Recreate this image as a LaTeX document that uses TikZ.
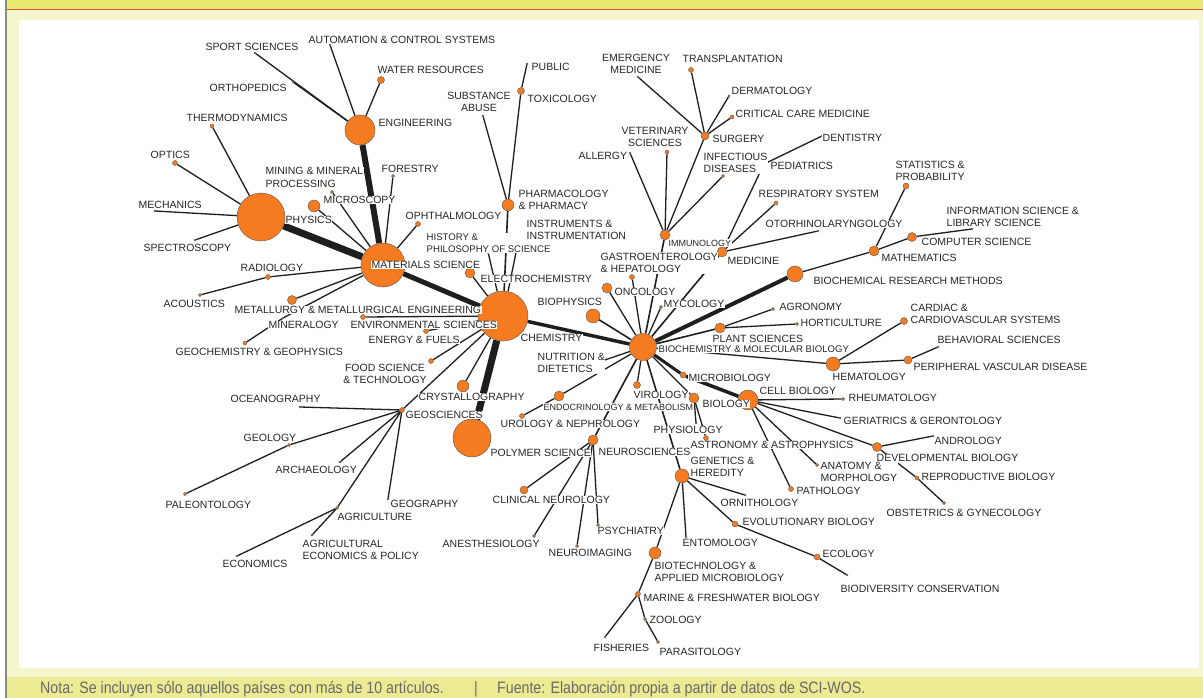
\documentclass[tikz,border=0pt]{standalone}
\usepackage{fontspec}
\setmainfont{Liberation Sans}
\newfontfamily\footfont[FakeStretch=0.86]{Liberation Sans}
\usetikzlibrary{positioning}
\definecolor{netorange}{RGB}{244,123,32}
\definecolor{linkblack}{RGB}{30,30,30}
\definecolor{labeltext}{RGB}{38,38,38}
\definecolor{bandyellow}{RGB}{234,233,112}
\definecolor{footyellow}{RGB}{236,235,148}
\definecolor{paleyellow}{RGB}{246,246,206}
\definecolor{rulered}{RGB}{222,84,60}
\definecolor{edgegray}{RGB}{140,140,120}
\definecolor{foottext}{RGB}{105,105,105}
\newcommand\lblfont{\fontsize{10.5}{12.6}\selectfont}
\newcommand\lblsmall{\fontsize{9.6}{11.6}\selectfont}
\newcommand\lbltiny{\fontsize{9}{11}\selectfont}
\pgfdeclarelayer{frame}
\pgfdeclarelayer{links}
\pgfsetlayers{frame,links,main}
\tikzset{
  dot/.style={circle, fill=netorange, draw=black!65, line width=0.4pt, inner sep=0pt, minimum size=#1},
  dot/.default=3,
  lbl/.style={font=\lblfont, text=labeltext, fill=white, inner sep=0.5pt, anchor=west, align=left},
  lblc/.style={lbl, anchor=center, align=center},
  link/.style={draw=linkblack, line width=#1},
  link/.default=1.3
}
\begin{document}
\begin{tikzpicture}[x=1pt, y=-1pt]
\useasboundingbox (0,0) rectangle (1203,698);

% Frame
\begin{pgfonlayer}{frame}
  \fill[white] (0,0) rectangle (1203,698);
  \fill[paleyellow] (6,0) rectangle (1203,698);
  \fill[bandyellow] (6,0) rectangle (1203,9);
  \fill[footyellow] (6,677) rectangle (1203,698);
  \fill[white] (19,20) rectangle (1199,668);
  \draw[rulered, line width=1.2pt] (6,9.6) -- (1203,9.6);
  \draw[edgegray, line width=1.3pt] (6,0) -- (6,698);
\end{pgfonlayer}

% Hubs
\node[dot=50] (chem) at (503,316) {};
\node[dot=44] (matsci) at (383,265) {};
\node[dot=48] (phys) at (261,217) {};
\node[dot=30] (eng) at (360,130) {};
\node[dot=27] (biochem) at (643,347) {};
\node[dot=38] (polymer) at (472,438) {};
\node[dot=20] (cellbio) at (748,400) {};
\node[dot=16] (brm) at (795,274) {};
\node[dot=14] (genetics) at (682,476) {};
\node[dot=14] (hemat) at (833,364) {};

% Engineering and physics branch
\node[dot=2] (sport) at (255,53) {};
\node[dot=2] (autom) at (330,45) {};
\node[dot=7] (water) at (381,80) {};
\node[dot=2] (ortho) at (293,82) {};
\node[dot=4] (thermo) at (212,126) {};
\node[dot=5] (optics) at (175,163) {};
\node[dot=2] (mech) at (155,211) {};
\node[dot=2] (spectro) at (195,240) {};

% Materials science branch
\node[dot=12] (micro) at (314,206) {};
\node[dot=3] (mining) at (332,192) {};
\node[dot=3] (forest) at (393,176) {};
\node[dot=5] (ophth) at (418,224) {};
\node[dot=5] (radiol) at (268,277) {};
\node[dot=3] (acoust) at (200,295) {};
\node[dot=9] (metal) at (292,300) {};
\node[dot=2] (minera) at (283,318) {};
\node[dot=4] (geochem) at (245,343) {};

% Chemistry branch
\node[dot=5] (envsci) at (363,317) {};
\node[dot=5] (energy) at (426,331) {};
\node[dot=5] (food) at (431,361) {};
\node[dot=12] (crystal) at (463,386) {};
\node[dot=5] (geosci) at (402,410) {};
\node[dot=10] (electro) at (470,273) {};
\node[dot=3] (histphil) at (488,252) {};
\node[dot=6] (instr) at (519,238) {};
\node[dot=12] (pharm) at (508,205) {};
\node[dot=2] (subst) at (483,116) {};
\node[dot=7] (toxic) at (521,91) {};
\node[dot=2] (public) at (527,64) {};

% Geosciences branch
\node[dot=2] (ocean) at (300,407) {};
\node[dot=3] (geol) at (289,445) {};
\node[dot=3] (paleo) at (185,494) {};
\node[dot=2] (archae) at (340,462) {};
\node[dot=2] (geog) at (388,499) {};
\node[dot=3] (agri) at (337,508) {};
\node[dot=2] (econ) at (237,556) {};
\node[dot=2] (agecon) at (312,535) {};

% Medicine branch
\node[dot=10] (immun) at (665,235) {};
\node[dot=10] (medic) at (722,252) {};
\node[dot=8] (surg) at (705,136) {};
\node[dot=2] (emerg) at (638,77) {};
\node[dot=5] (transpl) at (691,70) {};
\node[dot=2] (dermat) at (729,96) {};
\node[dot=4] (critcare) at (732,117) {};
\node[dot=4] (vetsci) at (667,152) {};
\node[dot=2] (allergy) at (630,153) {};
\node[dot=3] (infect) at (723,176) {};
\node[dot=3] (pediat) at (764,164) {};
\node[dot=2] (dentist) at (822,136) {};
\node[dot=4] (respir) at (776,203) {};
\node[dot=2] (otorhino) at (818,231) {};

% Biochemistry branch
\node[dot=14] (biophys) at (593,316) {};
\node[dot=10] (oncol) at (607,288) {};
\node[dot=5] (gastro) at (632,277) {};
\node[dot=3] (mycol) at (661,307) {};
\node[dot=4] (nutri) at (590,365) {};
\node[dot=10] (endo) at (559,396) {};
\node[dot=5] (urol) at (522,416) {};
\node[dot=7] (virol) at (637,385) {};
\node[dot=6] (microb) at (683,375) {};
\node[dot=10] (biol) at (694,398) {};
\node[dot=2] (physio) at (696,423) {};
\node[dot=5] (astro) at (706,438) {};
\node[dot=10] (plant) at (720,328) {};
\node[dot=3] (agron) at (773,309) {};
\node[dot=3] (hortic) at (797,324) {};
\node[dot=7] (cardiac) at (904,321) {};
\node[dot=8] (periph) at (908,360) {};
\node[dot=2] (behav) at (938,347) {};
\node[dot=10] (math) at (874,251) {};
\node[dot=6] (stats) at (906,186) {};
\node[dot=9] (compsci) at (912,237) {};
\node[dot=2] (infosci) at (972,229) {};

% Cell biology branch
\node[dot=3] (rheum) at (843,399) {};
\node[dot=2] (geriat) at (840,418) {};
\node[dot=9] (devbio) at (877,447) {};
\node[dot=2] (androl) at (933,436) {};
\node[dot=4] (reprod) at (917,478) {};
\node[dot=3] (obstet) at (944,503) {};
\node[dot=3] (anatomy) at (817,465) {};
\node[dot=5] (patho) at (791,489) {};

% Neurosciences branch
\node[dot=10] (neuro) at (593,440) {};
\node[dot=8] (clinneur) at (524,490) {};
\node[dot=3] (anest) at (534,536) {};
\node[dot=3] (neuroim) at (577,546) {};
\node[dot=3] (psych) at (598,525) {};

% Genetics branch
\node[dot=2] (ornith) at (745,495) {};
\node[dot=6] (evol) at (735,524) {};
\node[dot=6] (ecol) at (817,557) {};
\node[dot=2] (biodiv) at (847,575) {};
\node[dot=2] (entom) at (686,537) {};
\node[dot=12] (biotech) at (655,553) {};
\node[dot=5] (marine) at (638,594) {};
\node[dot=3] (zool) at (645,619) {};
\node[dot=2] (fish) at (605,637) {};
\node[dot=3] (parasit) at (658,642) {};

% Links
\begin{pgfonlayer}{links}
  \draw[link=6] (eng) -- (matsci);
  \draw[link=7] (phys) -- (matsci);
  \draw[link=5] (matsci) -- (chem);
  \draw[link=7] (chem) -- (polymer);
  \draw[link=3.5] (chem) -- (biochem);
  \draw[link=4] (biochem) -- (brm);
  \draw[link=3] (biochem) -- (microb);
  \draw[link=3.5] (microb) -- (cellbio);
  \draw[link] (eng) -- (sport);
  \draw[link] (eng) -- (autom);
  \draw[link] (eng) -- (water);
  \draw[link] (eng) -- (ortho);
  \draw[link] (phys) -- (thermo);
  \draw[link] (phys) -- (optics);
  \draw[link] (phys) -- (mech);
  \draw[link] (phys) -- (spectro);
  \draw[link] (matsci) -- (micro);
  \draw[link] (matsci) -- (mining);
  \draw[link] (matsci) -- (forest);
  \draw[link] (matsci) -- (ophth);
  \draw[link] (matsci) -- (radiol) -- (acoust);
  \draw[link] (matsci) -- (metal);
  \draw[link] (matsci) -- (minera) -- (geochem);
  \draw[link] (chem) -- (envsci);
  \draw[link] (chem) -- (energy);
  \draw[link] (chem) -- (food);
  \draw[link] (chem) -- (crystal);
  \draw[link] (chem) -- (geosci);
  \draw[link] (chem) -- (electro);
  \draw[link] (chem) -- (histphil);
  \draw[link] (chem) -- (instr);
  \draw[link=1.6] (chem) -- (pharm);
  \draw[link] (pharm) -- (subst);
  \draw[link] (pharm) -- (toxic) -- (public);
  \draw[link] (geosci) -- (ocean);
  \draw[link] (geosci) -- (geol) -- (paleo);
  \draw[link] (geosci) -- (archae);
  \draw[link] (geosci) -- (geog);
  \draw[link] (geosci) -- (agri);
  \draw[link] (agri) -- (econ);
  \draw[link] (agri) -- (agecon);
  \draw[link=1.6] (biochem) -- (immun);
  \draw[link=1.6] (biochem) -- (medic);
  \draw[link] (immun) -- (surg);
  \draw[link] (immun) -- (vetsci);
  \draw[link] (immun) -- (allergy);
  \draw[link] (immun) -- (infect);
  \draw[link] (surg) -- (emerg);
  \draw[link] (surg) -- (transpl);
  \draw[link] (surg) -- (dermat);
  \draw[link] (surg) -- (critcare);
  \draw[link] (medic) -- (pediat) -- (dentist);
  \draw[link] (medic) -- (respir);
  \draw[link] (medic) -- (otorhino);
  \draw[link=1.6] (biochem) -- (biophys);
  \draw[link] (biochem) -- (oncol);
  \draw[link] (biochem) -- (gastro);
  \draw[link] (biochem) -- (mycol);
  \draw[link] (biochem) -- (nutri);
  \draw[link] (biochem) -- (endo) -- (urol);
  \draw[link] (biochem) -- (virol);
  \draw[link] (biochem) -- (biol);
  \draw[link] (biol) -- (physio);
  \draw[link] (biol) -- (astro);
  \draw[link=1.6] (biochem) -- (plant);
  \draw[link] (plant) -- (agron);
  \draw[link] (plant) -- (hortic);
  \draw[link] (biochem) -- (hemat);
  \draw[link] (hemat) -- (cardiac);
  \draw[link] (hemat) -- (periph) -- (behav);
  \draw[link] (brm) -- (math);
  \draw[link] (math) -- (stats);
  \draw[link] (math) -- (compsci) -- (infosci);
  \draw[link] (cellbio) -- (rheum);
  \draw[link] (cellbio) -- (geriat);
  \draw[link] (cellbio) -- (devbio);
  \draw[link] (cellbio) -- (anatomy);
  \draw[link] (cellbio) -- (patho);
  \draw[link] (devbio) -- (androl);
  \draw[link] (devbio) -- (reprod) -- (obstet);
  \draw[link=1.6] (biochem) -- (neuro);
  \draw[link] (neuro) -- (clinneur);
  \draw[link] (neuro) -- (anest);
  \draw[link] (neuro) -- (neuroim);
  \draw[link] (neuro) -- (psych);
  \draw[link=1.6] (biochem) -- (genetics);
  \draw[link] (genetics) -- (ornith);
  \draw[link] (genetics) -- (evol) -- (ecol) -- (biodiv);
  \draw[link] (genetics) -- (entom);
  \draw[link] (genetics) -- (biotech) -- (marine);
  \draw[link] (marine) -- (fish);
  \draw[link] (marine) -- (zool) -- (parasit);
\end{pgfonlayer}

% Labels, left side
\node[lbl] (l-eng) at (378,123) {ENGINEERING};
\node[lbl] (l-sport) at (205,47) {SPORT SCIENCES};
\node[lbl] (l-autom) at (308,40) {AUTOMATION \& CONTROL SYSTEMS};
\node[lbl] (l-water) at (377,70) {WATER RESOURCES};
\node[lbl] (l-ortho) at (209,88) {ORTHOPEDICS};
\node[lbl] (l-thermo) at (186,118) {THERMODYNAMICS};
\node[lbl] (l-optics) at (150,155) {OPTICS};
\node[lbl] (l-mech) at (138,205) {MECHANICS};
\node[lbl] (l-phys) at (285,220) {PHYSICS};
\node[lbl] (l-micro) at (323,200) {MICROSCOPY};
\node[lbl] (l-mining) at (265,177.5) {MINING \& MINERAL\\PROCESSING};
\node[lbl] (l-forest) at (381,169) {FORESTRY};
\node[lbl] (l-ophth) at (405,216) {OPHTHALMOLOGY};
\node[lbl] (l-spectro) at (143,248) {SPECTROSCOPY};
\node[lbl] (l-matsci) at (371,265) {MATERIALS SCIENCE};
\node[lbl] (l-radiol) at (240,268) {RADIOLOGY};
\node[lbl] (l-acoust) at (163,304) {ACOUSTICS};
\node[lbl] (l-metal) at (234,310) {METALLURGY \& METALLURGICAL ENGINEERING};
\node[lbl] (l-minera) at (268,325) {MINERALOGY};
\node[lbl] (l-envsci) at (350,325) {ENVIRONMENTAL SCIENCES};
\node[lbl] (l-geochem) at (175,352) {GEOCHEMISTRY \& GEOPHYSICS};
\node[lbl] (l-energy) at (368,340) {ENERGY \& FUELS};
\node[lblc] (l-food) at (385,374) {FOOD SCIENCE\\\& TECHNOLOGY};
\node[lbl] (l-crystal) at (418,397) {CRYSTALLOGRAPHY};
\node[lbl] (l-geosci) at (405,415) {GEOSCIENCES};
\node[lbl] (l-ocean) at (230,399) {OCEANOGRAPHY};
\node[lbl] (l-geol) at (243,438) {GEOLOGY};
\node[lbl] (l-archae) at (275,470) {ARCHAEOLOGY};
\node[lbl] (l-paleo) at (165,505) {PALEONTOLOGY};
\node[lbl] (l-geog) at (390,504) {GEOGRAPHY};
\node[lbl] (l-agri) at (337,517) {AGRICULTURE};
\node[lbl] (l-agecon) at (302,550) {AGRICULTURAL\\ECONOMICS \& POLICY};
\node[lbl] (l-econ) at (222,564) {ECONOMICS};
\node[lbl] (l-polymer) at (490,453) {POLYMER SCIENCE};

% Labels, centre
\node[lbl] (l-chem) at (520,338) {CHEMISTRY};
\node[lbl] (l-electro) at (480,279) {ELECTROCHEMISTRY};
\node[lbl, font=\lblsmall] (l-histphil) at (426,243) {HISTORY \&\\PHILOSOPHY OF SCIENCE};
\node[lbl] (l-instr) at (526,230) {INSTRUMENTS \&\\INSTRUMENTATION};
\node[lbl] (l-pharm) at (518,200) {PHARMACOLOGY\\\& PHARMACY};
\node[lblc] (l-subst) at (479,102) {SUBSTANCE\\ABUSE};
\node[lbl] (l-toxic) at (527,99) {TOXICOLOGY};
\node[lbl] (l-public) at (531,67) {PUBLIC};
\node[lblc] (l-emerg) at (636,64) {EMERGENCY\\MEDICINE};
\node[lbl] (l-transpl) at (682,59) {TRANSPLANTATION};
\node[lbl] (l-dermat) at (731,91) {DERMATOLOGY};
\node[lbl] (l-critcare) at (735,114) {CRITICAL CARE MEDICINE};
\node[lbl] (l-surg) at (712,139) {SURGERY};
\node[lblc] (l-vetsci) at (655,137) {VETERINARY\\SCIENCES};
\node[lbl] (l-allergy) at (578,156) {ALLERGY};
\node[lbl] (l-infect) at (703,163) {INFECTIOUS\\DISEASES};
\node[lbl] (l-dentist) at (822,138) {DENTISTRY};
\node[lbl] (l-pediat) at (770,166) {PEDIATRICS};
\node[lbl] (l-respir) at (758,194) {RESPIRATORY SYSTEM};
\node[lbl] (l-otorhino) at (765,224) {OTORHINOLARYNGOLOGY};
\node[lbl, font=\lbltiny] (l-immun) at (668,243) {IMMUNOLOGY};
\node[lbl] (l-medic) at (727,261) {MEDICINE};
\node[lbl] (l-gastro) at (600,263) {GASTROENTEROLOGY\\\& HEPATOLOGY};
\node[lbl] (l-oncol) at (614,292) {ONCOLOGY};
\node[lbl] (l-mycol) at (663,304) {MYCOLOGY};
\node[lbl] (l-biophys) at (537,302) {BIOPHYSICS};
\node[lbl] (l-nutri) at (537,363) {NUTRITION \&\\DIETETICS};
\node[lbl] (l-virol) at (633,395) {VIROLOGY};
\node[lbl, font=\lbltiny] (l-endo) at (543,407) {ENDOCRINOLOGY \& METABOLISM};
\node[lbl] (l-urol) at (500,424) {UROLOGY \& NEPHROLOGY};
\node[lbl] (l-physio) at (653,430) {PHYSIOLOGY};
\node[lbl] (l-neuro) at (598,452) {NEUROSCIENCES};
\node[lbl] (l-clinneur) at (492,500) {CLINICAL NEUROLOGY};
\node[lbl] (l-psych) at (597,531) {PSYCHIATRY};
\node[lbl] (l-anest) at (442,544) {ANESTHESIOLOGY};
\node[lbl] (l-neuroim) at (548,553) {NEUROIMAGING};

% Labels, right side
\node[lbl] (l-brm) at (813,281) {BIOCHEMICAL RESEARCH METHODS};
\node[lbl] (l-stats) at (895,171) {STATISTICS \&\\PROBABILITY};
\node[lbl] (l-infosci) at (946,217) {INFORMATION SCIENCE \&\\LIBRARY SCIENCE};
\node[lbl] (l-compsci) at (921,242) {COMPUTER SCIENCE};
\node[lbl] (l-math) at (881,258) {MATHEMATICS};
\node[lbl] (l-agron) at (779,307) {AGRONOMY};
\node[lbl] (l-hortic) at (800,323) {HORTICULTURE};
\node[lbl] (l-plant) at (712,339) {PLANT SCIENCES};
\node[lbl, font=\lblsmall] (l-biochem) at (658,349) {BIOCHEMISTRY \& MOLECULAR BIOLOGY};
\node[lbl] (l-cardiac) at (910,314) {CARDIAC \&\\CARDIOVASCULAR SYSTEMS};
\node[lbl] (l-behav) at (937,340) {BEHAVIORAL SCIENCES};
\node[lbl] (l-periph) at (913,367) {PERIPHERAL VASCULAR DISEASE};
\node[lbl] (l-hemat) at (832,377) {HEMATOLOGY};
\node[lbl] (l-microb) at (688,378) {MICROBIOLOGY};
\node[lbl] (l-cellbio) at (759,391) {CELL BIOLOGY};
\node[lbl] (l-rheum) at (848,398) {RHEUMATOLOGY};
\node[lbl] (l-biol) at (702,404) {BIOLOGY};
\node[lbl] (l-geriat) at (843,421) {GERIATRICS \& GERONTOLOGY};
\node[lbl] (l-androl) at (934,441) {ANDROLOGY};
\node[lbl] (l-astro) at (690,445) {ASTRONOMY \& ASTROPHYSICS};
\node[lbl] (l-devbio) at (876,458) {DEVELOPMENTAL BIOLOGY};
\node[lbl] (l-genetics) at (690,467) {GENETICS \&\\HEREDITY};
\node[lbl] (l-anatomy) at (820,472) {ANATOMY \&\\MORPHOLOGY};
\node[lbl] (l-reprod) at (921,477) {REPRODUCTIVE BIOLOGY};
\node[lbl] (l-patho) at (796,491) {PATHOLOGY};
\node[lbl] (l-ornith) at (720,503) {ORNITHOLOGY};
\node[lbl] (l-obstet) at (886,513) {OBSTETRICS \& GYNECOLOGY};
\node[lbl] (l-evol) at (742,522) {EVOLUTIONARY BIOLOGY};
\node[lbl] (l-entom) at (682,543) {ENTOMOLOGY};
\node[lbl] (l-ecol) at (822,554) {ECOLOGY};
\node[lbl] (l-biotech) at (654,572) {BIOTECHNOLOGY \&\\APPLIED MICROBIOLOGY};
\node[lbl] (l-biodiv) at (840,589) {BIODIVERSITY CONSERVATION};
\node[lbl] (l-marine) at (643,598) {MARINE \& FRESHWATER BIOLOGY};
\node[lbl] (l-zool) at (649,620) {ZOOLOGY};
\node[lbl] (l-fish) at (593,648) {FISHERIES};
\node[lbl] (l-parasit) at (659,652) {PARASITOLOGY};

% Footer
\node[anchor=west, inner sep=0pt, text=foottext, font=\footfont\fontsize{16.5}{18}\selectfont] (nota) at (40,689.5) {Nota: Se incluyen sólo aquellos países con más de 10 artículos.};
\node[anchor=center, inner sep=0pt, text=foottext, font=\footfont\fontsize{16.5}{18}\selectfont] (sep) at (476,689.5) {|};
\node[anchor=west, inner sep=0pt, text=foottext, font=\footfont\fontsize{16.5}{18}\selectfont] (fuente) at (497,689.5) {Fuente: Elaboración propia a partir de datos de SCI-WOS.};
\end{tikzpicture}
\end{document}
